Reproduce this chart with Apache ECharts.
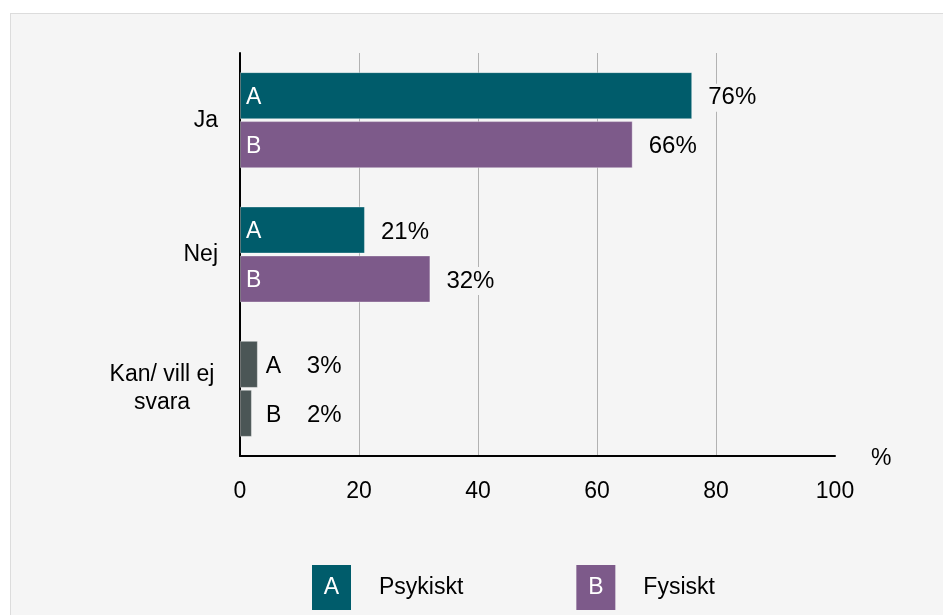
<!DOCTYPE html>
<html>
<head>
<meta charset="utf-8">
<script src="https://cdn.jsdelivr.net/npm/echarts@6/dist/echarts.min.js"></script>
<style>
  html, body { margin: 0; padding: 0; background: #ffffff; }
  #bg { position: absolute; left: 10px; top: 13px; right: 0; bottom: 0;
        background: #f5f5f5; border-left: 1px solid #dcdcdc; border-top: 1px solid #dcdcdc; }
  #chart { position: absolute; left: 0; top: 0; width: 943px; height: 615px; }
</style>
</head>
<body>
<div id="bg"></div>
<div id="chart"></div>
<script>
// Answers per category, in percent
const categories = ['Ja', 'Nej', 'Kan/ vill ej svara'];
const psykiskt = [76, 21, 3];
const fysiskt = [66, 32, 2];
const seriesNames = ['Psykiskt', 'Fysiskt'];
const letters = ['A', 'B'];
const xTicks = [0, 20, 40, 60, 80, 100];

const TEAL = '#005c6b';
const PURPLE = '#7d5a8a';
const GREY = '#4b5656';
const BG = '#f5f5f5';
const FONT = 'Liberation Sans, Arial, sans-serif';
const FS = 23;

const otherIdx = 2; // "Kan/ vill ej svara" bars are drawn grey with outside letters

// letter/value label gaps for the short grey bars, so the text lines up in a column
const otherLetterGap = [8, 14];
const otherValueGap = [45, 51];

function barData(values, s) {
  return values.map((v, i) => {
    const item = { value: v };
    if (i === otherIdx) {
      item.itemStyle = { color: GREY };
      item.label = { position: 'right', distance: otherLetterGap[s], color: '#000' };
    }
    return item;
  });
}

function valueData(values, s) {
  return values.map((v, i) => {
    const item = { value: v };
    if (i === otherIdx) item.label = { distance: otherValueGap[s] };
    return item;
  });
}

const barCommon = {
  type: 'bar',
  barCategoryGap: '28.5%',
  barGap: '4%',
};

function letterSeries(s, values, color) {
  return Object.assign({}, barCommon, {
    name: seriesNames[s],
    yAxisIndex: 0,
    itemStyle: { color: color, borderColor: 'rgba(255,255,255,0.35)', borderWidth: 1 },
    label: {
      show: true, position: 'insideLeft', distance: 6, offset: [0, 2],
      formatter: letters[s], color: '#ffffff', fontSize: FS, fontFamily: FONT
    },
    data: barData(values, s),
    z: 3
  });
}

function valueSeries(s, values) {
  return Object.assign({}, barCommon, {
    name: seriesNames[s] + '-värde',
    yAxisIndex: 1,
    itemStyle: { color: 'rgba(0,0,0,0)' },
    label: {
      show: true, position: 'right', distance: 12, offset: [0, 2],
      formatter: '{c}%', color: '#000', fontSize: 24, fontFamily: FONT,
      backgroundColor: BG, padding: [2, 4]
    },
    data: valueData(values, s),
    silent: true,
    z: 4
  });
}

const yAxisBase = {
  type: 'category',
  data: categories,
  inverse: true,
};

const chart = echarts.init(document.getElementById('chart'), null, { renderer: 'canvas' });
chart.setOption({
  animation: false,
  textStyle: { fontFamily: FONT },
  grid: { left: 240, right: 108, top: 53, bottom: 159, containLabel: false },
  xAxis: {
    type: 'value', min: 0, max: 100, interval: 20,
    name: '%', nameLocation: 'end', nameGap: 36,
    nameTextStyle: { color: '#000', fontSize: FS, fontFamily: FONT, align: 'left', verticalAlign: 'top', lineHeight: 6 },
    axisLine: { show: true, lineStyle: { color: '#000', width: 2 } },
    axisTick: { show: false },
    axisLabel: { color: '#000', fontSize: FS, fontFamily: FONT, margin: 24,
      formatter: v => xTicks.includes(v) ? String(v) : '' },
    splitLine: { show: true, lineStyle: { color: ['rgba(0,0,0,0)', '#b2b2b2', '#b2b2b2', '#b2b2b2', '#b2b2b2', 'rgba(0,0,0,0)'], width: 1 } }
  },
  yAxis: [
    Object.assign({}, yAxisBase, {
      axisLine: { show: true, lineStyle: { color: '#000', width: 2 } },
      axisTick: { show: false },
      axisLabel: {
        color: '#000', fontSize: 23, fontFamily: FONT, margin: 22, align: 'right',
        formatter: v => v === categories[otherIdx] ? '{c|Kan/ vill ej}\n{c|svara}' : v,
        rich: { c: { width: 112, align: 'center', fontSize: 23, fontFamily: FONT, lineHeight: 28, color: '#000' } }
      }
    }),
    Object.assign({}, yAxisBase, {
      show: false
    })
  ],
  legend: {
    data: seriesNames,
    left: 301, top: 560,
    orient: 'horizontal',
    itemWidth: 0, itemHeight: 0, itemGap: 107,
    icon: 'rect',
    selectedMode: false,
    formatter: name => {
      const i = seriesNames.indexOf(name);
      return '{box' + i + '|' + letters[i] + '}{gap|}{txt|' + name + '}';
    },
    textStyle: {
      rich: {
        box0: { backgroundColor: TEAL, color: '#fff', width: 39, height: 45, lineHeight: 45, align: 'center', fontSize: FS, fontFamily: FONT },
        box1: { backgroundColor: PURPLE, color: '#fff', width: 39, height: 45, lineHeight: 45, align: 'center', fontSize: FS, fontFamily: FONT },
        gap: { width: 28 },
        txt: { color: '#000', fontSize: FS, fontFamily: FONT }
      }
    }
  },
  series: [
    letterSeries(0, psykiskt, TEAL),
    letterSeries(1, fysiskt, PURPLE),
    valueSeries(0, psykiskt),
    valueSeries(1, fysiskt)
  ]
});
</script>
</body>
</html>
